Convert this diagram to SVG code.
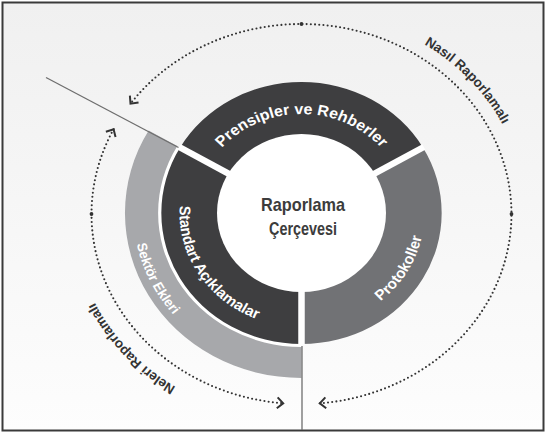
<svg xmlns="http://www.w3.org/2000/svg" xmlns:xlink="http://www.w3.org/1999/xlink" width="547" height="433" viewBox="0 0 547 433">
<style>
.dark{fill:#3e3e40}
.mid{fill:#717275}
.light{fill:#a7a8ab}
.lbl{font-family:"Liberation Sans",Arial,sans-serif;font-weight:bold;fill:#ffffff}
.out{font-family:"Liberation Sans",Arial,sans-serif;font-weight:bold;fill:#333333;font-size:13.5px}
.ctr{font-family:"Liberation Sans",Arial,sans-serif;font-weight:bold;fill:#3c3c3c;font-size:19px}
.dots{fill:none;stroke:#333333;stroke-width:2.1;stroke-dasharray:0 4.2;stroke-linecap:round}
.gap{stroke:#ffffff;stroke-width:6.5;fill:none}
.axis{stroke:#6e6e6e;stroke-width:1.3;fill:none}
</style>
<defs>
<linearGradient id="bg" x1="0" y1="0" x2="0" y2="1">
<stop offset="0" stop-color="#f0f0f0"/>
<stop offset="1" stop-color="#fdfdfd"/>
</linearGradient>
<marker id="chev" viewBox="-9 -8 12 16" markerWidth="12" markerHeight="16" refX="0" refY="0" orient="auto-start-reverse" markerUnits="userSpaceOnUse" overflow="visible">
<path d="M-6,-5.5 L0,0 L-6,5.5" fill="none" stroke="#333" stroke-width="2"/>
</marker>
<path id="p-pr" d="M -93.03 -33.86 A 99 99 0 0 1 93.03 -33.86"/>
<path id="p-st" d="M -90.45 -69.40 A 114 114 0 0 0 24.67 111.30"/>
<path id="p-pk" d="M -21.94 112.88 A 115 115 0 0 0 89.37 -72.37"/>
<path id="p-se" d="M -106.6 -115.3 A 157 157 0 0 0 24.56 155.07"/>
<path id="p-nasil" d="M 338.5 13.8 A 224 203 0 0 1 525.5 212.2"/>
<path id="p-neleri" d="M 261.8 417.9 A 228.7 207 0 0 1 72.8 214"/>
</defs>

<rect x="2.5" y="2.5" width="541" height="428" fill="url(#bg)" stroke="#3a3a3a" stroke-width="2"/>

<g transform="translate(301.5,213) scale(1.07,1)">
<path d="M 0 0 L 0 165 A 165 165 0 0 1 -142.89 -82.5 Z" fill="#ffffff"/>
<g id="sektor">
<path class="light" d="M 0 165 A 165 165 0 0 1 -142.89 -82.5 L -116.05 -67 A 134 134 0 0 0 0 134 Z"/>
<text class="lbl" font-size="13" text-anchor="middle"><textPath href="#p-se" xlink:href="#p-se" startOffset="50%">Sektör Ekleri</textPath></text>
</g>
<g id="prensipler">
<path class="dark" d="M -113.45 -65.5 A 131 131 0 0 1 113.45 -65.5 L 67.55 -39 A 78 78 0 0 0 -67.55 -39 Z"/>
<text class="lbl" font-size="15" text-anchor="middle"><textPath href="#p-pr" xlink:href="#p-pr" startOffset="50%">Prensipler ve Rehberler</textPath></text>
</g>
<g id="protokoller">
<path class="mid" d="M 113.45 -65.5 A 131 131 0 0 1 0 131 L 0 78 A 78 78 0 0 0 67.55 -39 Z"/>
<text class="lbl" font-size="14.5" text-anchor="middle"><textPath href="#p-pk" xlink:href="#p-pk" startOffset="50%">Protokoller</textPath></text>
</g>
<g id="standart">
<path class="dark" d="M 0 131 A 131 131 0 0 1 -113.45 -65.5 L -67.55 -39 A 78 78 0 0 0 0 78 Z"/>
<text class="lbl" font-size="14.5" text-anchor="middle"><textPath href="#p-st" xlink:href="#p-st" startOffset="50%">Standart Açıklamalar</textPath></text>
</g>
</g>

<g id="gaps">
<line class="gap" x1="301.5" y1="213" x2="179.2" y2="147"/>
<line class="gap" x1="301.5" y1="213" x2="423.8" y2="147"/>
<line class="gap" x1="301.5" y1="213" x2="301.5" y2="344.5"/>
</g>

<g id="center">
<ellipse cx="301.5" cy="213" rx="84.5" ry="79" fill="#ffffff"/>
<text class="ctr" x="303" y="211" text-anchor="middle" textLength="84" lengthAdjust="spacingAndGlyphs">Raporlama</text>
<text class="ctr" x="303" y="235" text-anchor="middle" textLength="68" lengthAdjust="spacingAndGlyphs">Çerçevesi</text>
</g>

<g id="connectors">
<line class="axis" x1="178.5" y1="147.5" x2="46" y2="77.5"/>
<line class="axis" x1="302" y1="346" x2="302" y2="430"/>
<path class="dots" d="M 319.8 403.3 A 210 190 0 1 0 130.5 103.7" marker-start="url(#chev)" marker-end="url(#chev)"/>
<path class="dots" d="M 113.6 129.2 A 210 190 0 0 0 283.2 403.3" marker-start="url(#chev)" marker-end="url(#chev)"/>
<circle cx="301.5" cy="24" r="1.9" fill="#333"/>
<circle cx="511.5" cy="214" r="1.9" fill="#333"/>
<circle cx="91.5" cy="214" r="1.9" fill="#333"/>
<text class="out" text-anchor="middle"><textPath href="#p-nasil" xlink:href="#p-nasil" startOffset="50%">Nasıl Raporlamalı</textPath></text>
<text class="out" text-anchor="middle"><textPath href="#p-neleri" xlink:href="#p-neleri" startOffset="50%">Neleri Raporlamalı</textPath></text>
</g>
</svg>
